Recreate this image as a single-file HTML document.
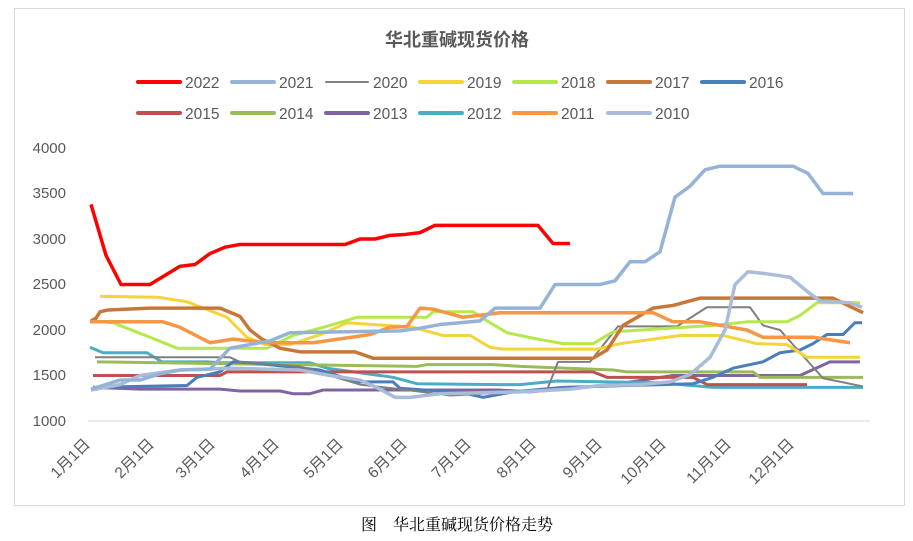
<!DOCTYPE html>
<html><head><meta charset="utf-8"><style>
html,body{margin:0;padding:0;background:#fff;}
svg{display:block;font-family:"Liberation Sans","Noto Sans CJK SC",sans-serif;}
</style></head><body>
<svg width="913" height="541" viewBox="0 0 913 541" xmlns="http://www.w3.org/2000/svg">
<rect x="14.5" y="8.5" width="890" height="497" fill="#fff" stroke="#d9d9d9"/>
<text x="457" y="46" text-anchor="middle" font-size="18" font-weight="bold" fill="#595959">华北重碱现货价格</text>
<g font-size="15.5" fill="#595959" stroke-width="4" stroke-linecap="round">
<line x1="138" y1="82" x2="180" y2="82" stroke="#ff0000"/><text x="185" y="88">2022</text>
<line x1="232" y1="82" x2="274" y2="82" stroke="#95b3d7"/><text x="279" y="88">2021</text>
<line x1="326" y1="82" x2="368" y2="82" stroke="#7f7f7f" stroke-width="2"/><text x="373" y="88">2020</text>
<line x1="420" y1="82" x2="462" y2="82" stroke="#f5d33a"/><text x="467" y="88">2019</text>
<line x1="514" y1="82" x2="556" y2="82" stroke="#b5e84a"/><text x="561" y="88">2018</text>
<line x1="608" y1="82" x2="650" y2="82" stroke="#c7773a"/><text x="655" y="88">2017</text>
<line x1="702" y1="82" x2="744" y2="82" stroke="#4a7ebb"/><text x="749" y="88">2016</text>
<line x1="138" y1="113" x2="180" y2="113" stroke="#c0504d"/><text x="185" y="119">2015</text>
<line x1="232" y1="113" x2="274" y2="113" stroke="#9bbb59"/><text x="279" y="119">2014</text>
<line x1="326" y1="113" x2="368" y2="113" stroke="#8064a2"/><text x="373" y="119">2013</text>
<line x1="420" y1="113" x2="462" y2="113" stroke="#4bacc6"/><text x="467" y="119">2012</text>
<line x1="514" y1="113" x2="556" y2="113" stroke="#f79646"/><text x="561" y="119">2011</text>
<line x1="608" y1="113" x2="650" y2="113" stroke="#a9bcd8"/><text x="655" y="119">2010</text>
</g>
<g font-size="15" fill="#595959" text-anchor="end">
<text x="66" y="153">4000</text><text x="66" y="198">3500</text><text x="66" y="244">3000</text>
<text x="66" y="289">2500</text><text x="66" y="335">2000</text><text x="66" y="380">1500</text><text x="66" y="426">1000</text>
</g>
<line x1="88" y1="421" x2="870" y2="421" stroke="#d9d9d9" stroke-width="1"/>
<g font-size="15.5" fill="#595959" text-anchor="end">
<text transform="translate(91,445) rotate(-45)">1月1日</text>
<text transform="translate(155,445) rotate(-45)">2月1日</text>
<text transform="translate(216,445) rotate(-45)">3月1日</text>
<text transform="translate(280,445) rotate(-45)">4月1日</text>
<text transform="translate(344,445) rotate(-45)">5月1日</text>
<text transform="translate(408,445) rotate(-45)">6月1日</text>
<text transform="translate(472,445) rotate(-45)">7月1日</text>
<text transform="translate(537,445) rotate(-45)">8月1日</text>
<text transform="translate(603,445) rotate(-45)">9月1日</text>
<text transform="translate(667,445) rotate(-45)">10月1日</text>
<text transform="translate(732,445) rotate(-45)">11月1日</text>
<text transform="translate(795,445) rotate(-45)">12月1日</text>
</g>
<g transform="translate(0,512) scale(1,-0.091)" fill="none" stroke-linejoin="round">
<polyline vector-effect="non-scaling-stroke" stroke-width="3" stroke="#8064a2" points="93,1370 140,1350 220,1350 240,1330 280,1330 293,1300 310,1300 323,1340 500,1340 530,1320 613,1400 673,1500 800,1500 830,1650 860,1650"/>
<polyline vector-effect="non-scaling-stroke" stroke-width="3" stroke="#4bacc6" points="90,1810 103,1750 147,1750 162,1650 207,1650 220,1640 310,1640 327,1580 393,1480 417,1410 500,1400 520,1400 557,1440 660,1420 713,1370 863,1370"/>
<polyline vector-effect="non-scaling-stroke" stroke-width="3" stroke="#c0504d" points="93,1500 220,1500 227,1540 593,1540 607,1480 693,1480 707,1400 807,1400"/>
<polyline vector-effect="non-scaling-stroke" stroke-width="3" stroke="#9bbb59" points="97,1650 417,1600 427,1620 493,1620 507,1610 520,1600 613,1560 627,1540 753,1540 760,1480 863,1480"/>
<polyline vector-effect="non-scaling-stroke" stroke-width="3" stroke="#4a7ebb" points="93,1370 187,1390 197,1480 220,1540 233,1650 250,1640 320,1560 357,1430 393,1430 400,1360 463,1310 483,1260 513,1320 563,1370 693,1410 713,1480 733,1580 763,1650 780,1750 800,1780 813,1850 827,1950 843,1950 855,2080 862,2080"/>
<polyline vector-effect="non-scaling-stroke" stroke-width="2" stroke="#7f7f7f" points="95,1700 230,1700 240,1650 300,1600 330,1500 360,1400 400,1350 450,1280 547,1340 558,1650 590,1650 618,2040 677,2040 707,2250 750,2250 763,2050 780,2000 823,1470 863,1380"/>
<polyline vector-effect="non-scaling-stroke" stroke-width="3" stroke="#f5d33a" points="100,2370 158,2360 187,2310 227,2140 247,1920 265,1840 290,1840 323,1960 347,2080 413,2030 443,1940 470,1940 490,1810 503,1790 597,1790 620,1850 680,1940 723,1940 757,1850 787,1840 807,1700 860,1700"/>
<polyline vector-effect="non-scaling-stroke" stroke-width="3" stroke="#b5e84a" points="91,2100 113,2080 150,1920 177,1800 267,1800 293,1940 330,2050 357,2140 427,2140 433,2200 473,2200 490,2080 507,1970 533,1910 563,1850 593,1850 613,1980 713,2050 747,2090 787,2090 800,2160 817,2300 860,2300"/>
<polyline vector-effect="non-scaling-stroke" stroke-width="3.5" stroke="#c7773a" points="91,2100 96,2130 100,2200 108,2220 150,2240 220,2240 240,2150 250,2000 262,1900 280,1800 300,1760 355,1760 373,1690 593,1690 607,1780 623,2050 653,2240 673,2270 700,2350 833,2350 863,2190"/>
<polyline vector-effect="non-scaling-stroke" stroke-width="3.5" stroke="#f79646" points="90,2090 163,2090 180,2030 210,1860 233,1900 267,1860 313,1860 370,1950 390,2030 407,2040 420,2240 433,2230 463,2140 500,2190 653,2190 673,2090 700,2090 747,2000 763,1920 813,1920 850,1860"/>
<polyline vector-effect="non-scaling-stroke" stroke-width="3.5" stroke="#a9bcd8" points="91,1340 120,1400 140,1500 180,1560 230,1580 300,1560 330,1500 360,1450 380,1350 395,1260 410,1260 440,1300 520,1320 570,1350 600,1390 640,1400 670,1430 690,1510 710,1700 725,2000 735,2500 748,2640 765,2620 790,2580 810,2400 820,2320 850,2300 862,2250"/>
<polyline vector-effect="non-scaling-stroke" stroke-width="3.5" stroke="#95b3d7" points="91,1350 106,1400 120,1450 140,1450 160,1520 180,1560 210,1570 230,1800 240,1820 270,1880 290,1970 340,1980 400,1990 420,2020 440,2060 460,2080 480,2100 495,2240 540,2240 555,2500 600,2500 615,2540 630,2750 645,2750 660,2860 675,3460 690,3580 705,3760 720,3800 793,3800 808,3720 823,3500 853,3500"/>
<polyline vector-effect="non-scaling-stroke" stroke-width="3.5" stroke="#ff0000" points="91,3380 106,2820 121,2500 150,2500 165,2600 180,2700 195,2720 210,2840 225,2910 240,2940 345,2940 360,3000 375,3000 390,3040 405,3050 420,3070 435,3150 538,3150 553,2950 570,2950"/>
</g>
<text x="457" y="530" text-anchor="middle" font-size="16" fill="#000" font-family="'Liberation Serif','Noto Serif CJK SC',serif">图　华北重碱现货价格走势</text>
</svg>
</body></html>
